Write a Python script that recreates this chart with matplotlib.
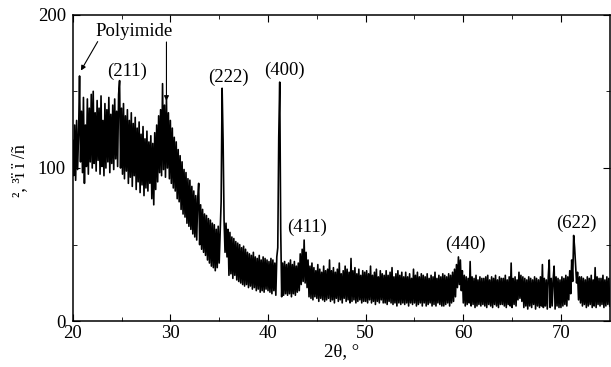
import numpy as np
import matplotlib
matplotlib.use("Agg")
import matplotlib.pyplot as plt

# XRD pattern, 0.1 deg steps from 20 to 75 (top/bottom of the noise band)
two_theta_start = 20.0
two_theta_step = 0.1
intensity = [
    # 20 - 21.9
    118, 95, 128, 92, 131, 99, 122, 160, 104, 137, 97, 146, 90, 128, 101, 145, 96, 139, 104, 148,
    # 22 - 23.9
    100, 150, 103, 136, 98, 144, 105, 139, 96, 147, 101, 131, 95, 142, 100, 138, 104, 146, 97, 135,
    # 24 - 25.9
    103, 141, 99, 145, 106, 137, 101, 148, 157, 100, 139, 96, 142, 93, 134, 98, 138, 90, 131, 94,
    # 26 - 27.9
    136, 88, 129, 95, 133, 86, 126, 91, 130, 84, 122, 89, 127, 82, 119, 87, 124, 85, 117, 90,
    # 28 - 29.9
    121, 80, 116, 76, 123, 86, 128, 91, 134, 97, 138, 95, 155, 99, 141, 94, 145, 100, 136, 93,
    # 30 - 31.9
    131, 90, 126, 87, 120, 85, 117, 80, 112, 78, 108, 73, 104, 70, 99, 68, 97, 64, 93, 62,
    # 32 - 33.9
    92, 60, 88, 57, 85, 55, 82, 53, 80, 90, 50, 76, 47, 73, 45, 70, 43, 69, 40, 67,
    # 34 - 35.9
    38, 66, 36, 64, 35, 63, 33, 60, 35, 62, 38, 58, 78, 152, 118, 66, 45, 64, 42, 60,
    # 36 - 37.9
    30, 58, 31, 55, 28, 54, 30, 52, 27, 51, 26, 50, 25, 48, 24, 49, 23, 47, 24, 45,
    # 38 - 39.9
    22, 44, 23, 43, 21, 45, 22, 42, 20, 41, 21, 43, 19, 40, 20, 42, 19, 41, 21, 40,
    # 40 - 41.9
    20, 39, 19, 41, 18, 40, 20, 38, 17, 42, 48, 120, 156, 60, 16, 38, 17, 39, 18, 37,
    # 42 - 43.9
    17, 38, 18, 40, 16, 37, 18, 39, 17, 36, 19, 38, 20, 44, 24, 47, 26, 53, 25, 45,
    # 44 - 45.9
    22, 40, 16, 36, 15, 38, 14, 35, 16, 33, 15, 37, 13, 34, 15, 32, 14, 36, 13, 33,
    # 46 - 47.9
    14, 34, 15, 40, 13, 33, 14, 35, 12, 32, 15, 34, 13, 38, 14, 31, 12, 33, 15, 36,
    # 48 - 49.9
    13, 34, 14, 32, 12, 41, 13, 33, 14, 35, 12, 31, 13, 34, 14, 30, 12, 33, 13, 32,
    # 50 - 51.9
    13, 33, 12, 31, 14, 36, 12, 30, 13, 32, 11, 34, 13, 29, 12, 33, 14, 31, 12, 30,
    # 52 - 53.9
    12, 33, 11, 30, 13, 32, 12, 35, 11, 29, 12, 31, 10, 33, 12, 30, 11, 32, 12, 29,
    # 54 - 55.9
    11, 32, 12, 29, 10, 31, 12, 28, 11, 34, 12, 30, 10, 32, 11, 29, 12, 31, 10, 30,
    # 56 - 57.9
    12, 29, 10, 31, 11, 28, 12, 30, 10, 29, 11, 32, 10, 28, 12, 30, 11, 29, 10, 31,
    # 58 - 59.9
    10, 30, 11, 29, 12, 31, 10, 30, 12, 32, 13, 34, 16, 37, 22, 42, 24, 40, 20, 33,
    # 60 - 61.9
    12, 30, 10, 29, 11, 28, 12, 39, 10, 29, 11, 28, 9, 30, 10, 27, 11, 29, 10, 28,
    # 62 - 63.9
    11, 28, 10, 29, 9, 30, 11, 27, 10, 29, 9, 28, 11, 30, 10, 27, 9, 29, 11, 28,
    # 64 - 65.9
    11, 28, 10, 30, 9, 27, 11, 29, 10, 38, 9, 28, 11, 29, 10, 27, 14, 32, 15, 30,
    # 66 - 67.9
    13, 29, 9, 28, 10, 27, 8, 29, 10, 28, 9, 27, 11, 29, 8, 28, 10, 27, 9, 29,
    # 68 - 69.9
    10, 37, 9, 28, 10, 27, 8, 29, 40, 9, 28, 10, 27, 36, 8, 29, 10, 28, 9, 27,
    # 70 - 71.9
    9, 29, 10, 28, 11, 30, 10, 29, 14, 33, 18, 40, 26, 56, 48, 36, 25, 32, 14, 29,
    # 72 - 73.9
    12, 29, 10, 28, 11, 27, 9, 29, 10, 28, 11, 30, 9, 27, 10, 35, 9, 29, 11, 28,
    # 74 - 75
    10, 28, 11, 30, 9, 27, 10, 29, 11, 28, 10,
]
two_theta = two_theta_start + two_theta_step * np.arange(len(intensity))

peak_labels = ["(211)", "(222)", "(400)", "(411)", "(440)", "(622)"]
peak_label_x = [25.6, 35.9, 41.7, 44.05, 60.2, 71.6]
peak_label_y = [163, 159, 164, 61, 50, 64]

plt.rcParams['font.family'] = ['Liberation Serif', 'DejaVu Serif']

fig = plt.figure(figsize=(6.11, 3.67), dpi=100)
ax = fig.add_axes([0.119, 0.1245, 0.879, 0.8355])
ax.plot(two_theta, intensity, color='black', lw=1.2)

ax.set_xlim(20, 75)
ax.set_ylim(0, 200)
ax.set_xticks([20, 30, 40, 50, 60, 70])
ax.set_xticks(np.arange(25, 75, 10), minor=True)
ax.set_yticks([0, 100, 200])
ax.set_yticks([50, 150], minor=True)
ax.tick_params(which='both', direction='in', top=True, right=True, labelsize=13.5)
ax.tick_params(axis='x', pad=3)
ax.tick_params(axis='y', pad=5)
ax.tick_params(which='major', length=5)
ax.tick_params(which='minor', length=3)
for s in ax.spines.values():
    s.set_linewidth(1.1)

for lab, lx, ly in zip(peak_labels, peak_label_x, peak_label_y):
    ax.text(lx, ly, lab, fontsize=13.5, ha='center', va='center')

ax.text(26.3, 189, "Polyimide", fontsize=13.5, ha='center', va='center')
ax.annotate("", xy=(20.7, 162), xytext=(22.7, 184),
            arrowprops=dict(arrowstyle='-|>', color='black', lw=0.8, mutation_scale=7))
ax.annotate("", xy=(29.6, 142), xytext=(29.6, 184),
            arrowprops=dict(arrowstyle='-|>', color='black', lw=0.8, mutation_scale=7))

ax.set_xlabel("2θ, °", fontsize=13.5)
ax.xaxis.set_label_coords(0.501, -0.07)
ax.set_ylabel("², ³ï ï /ñ", fontsize=13)
ax.yaxis.set_label_coords(-0.083, 0.49)

fig.savefig("out.png", dpi=100)
